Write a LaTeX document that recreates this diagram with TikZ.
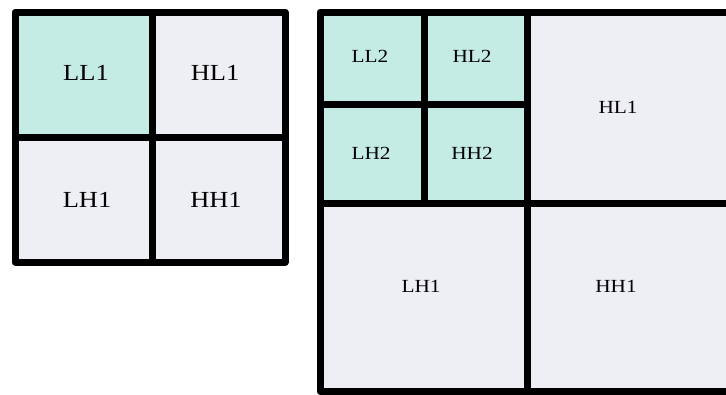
\documentclass[tikz,border=0pt]{standalone}
\usepackage{fontspec}
\setmainfont{Liberation Serif}
\definecolor{teal1}{RGB}{197,236,228}
\definecolor{gray1}{RGB}{238,238,245}
\begin{document}
\begin{tikzpicture}[x=1pt,y=-1pt,
  cell/.style={draw=black,line width=7pt,line join=round},
  lo/.style={cell,fill=teal1},
  hi/.style={cell,fill=gray1},
  bigtxt/.style={font=\fontsize{23}{23}\selectfont,xscale=1.15,transform shape},
  smtxt/.style={font=\fontsize{18.5}{18.5}\selectfont,xscale=1.15,transform shape}]
\useasboundingbox (0,0) rectangle (726,394);
\clip (0,0) rectangle (726,394);
% left grid
\path[lo] (15,12) rectangle (152,137);
\path[hi] (152,12) rectangle (285,137);
\path[hi] (15,137) rectangle (152,262);
\path[hi] (152,137) rectangle (285,262);
\node[bigtxt] (ll1) at (86,73) {LL1};
\node[bigtxt] (hl1) at (215,73) {HL1};
\node[bigtxt] (lh1) at (87,200) {LH1};
\node[bigtxt] (hh1) at (216,200) {HH1};
% right grid
\path[hi] (527,12) rectangle (745,203);
\path[hi] (320,203) rectangle (527,391.5);
\path[hi] (527,203) rectangle (745,391.5);
\path[lo] (320,12) rectangle (424,104);
\path[lo] (424,12) rectangle (527,104);
\path[lo] (320,104) rectangle (424,203);
\path[lo] (424,104) rectangle (527,203);
\node[smtxt] (ll2) at (370,56) {LL2};
\node[smtxt] (hl2) at (472,56) {HL2};
\node[smtxt] (lh2) at (371,153) {LH2};
\node[smtxt] (hh2) at (472,153) {HH2};
\node[smtxt] (rhl1) at (618,107) {HL1};
\node[smtxt] (rlh1) at (421,286) {LH1};
\node[smtxt] (rhh1) at (616,286) {HH1};
\end{tikzpicture}
\end{document}
